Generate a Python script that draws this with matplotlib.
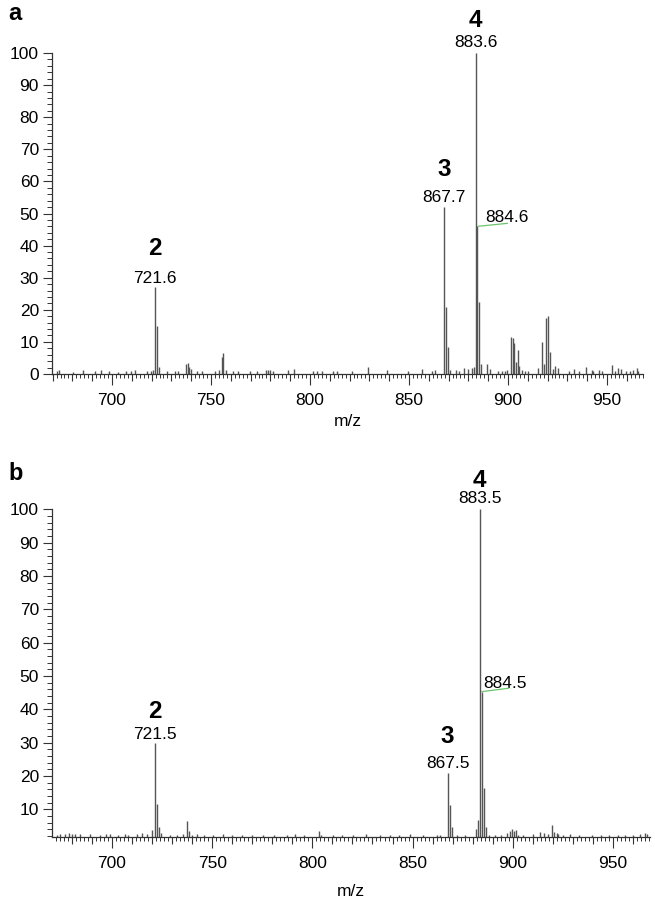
import matplotlib
matplotlib.use("Agg")
import matplotlib.pyplot as plt
from matplotlib.ticker import MultipleLocator, FuncFormatter

plt.rcParams['font.family'] = ['Liberation Sans', 'DejaVu Sans']

# ---------------- data: panel a ----------------
a_mz = [672.1, 673.4, 680.5, 685.2, 691.4, 694.4, 698.6, 703.2, 707.1, 709.4,
        711.6, 717.5, 719.5, 720.6, 721.6, 722.6, 723.6, 727.6, 731.8, 733.5,
        737.3, 738.2, 739.0, 740.0, 742.8, 745.3, 752.0, 754.2, 755.4, 756.3,
        757.4, 761.3, 763.6, 769.7, 773.1, 777.6, 778.8, 779.8, 781.3, 789.1,
        792.1, 801.5, 803.7, 805.9, 811.8, 813.5, 821.1, 829.1, 839.1, 849.6,
        856.4, 861.5, 863.1, 867.7, 868.7, 869.7, 870.7, 873.7, 875.4, 877.8,
        880.0, 881.6, 882.6, 883.6, 884.6, 885.6, 886.5, 889.5, 890.9, 895.0,
        897.2, 898.6, 899.6, 901.4, 902.3, 903.2, 904.1, 905.1, 905.8, 907.0,
        908.5, 910.0, 915.0, 917.2, 918.1, 919.2, 920.2, 921.1, 922.6, 923.7,
        925.4, 931.0, 933.3, 935.9, 939.2, 942.3, 943.0, 946.2, 947.3, 952.7,
        954.0, 955.7, 957.0, 959.4, 961.6, 963.0, 965.0, 965.8]
a_int = [0.8, 1.3, 0.6, 1.2, 0.8, 1.3, 1.0, 0.7, 1.0, 0.8,
         1.1, 0.8, 1.0, 1.2, 27.2, 14.8, 2.3, 0.8, 1.0, 1.0,
         3.0, 3.5, 2.2, 1.5, 1.0, 1.0, 0.8, 1.2, 5.2, 6.6,
         1.3, 1.0, 1.0, 0.8, 0.8, 1.3, 1.3, 1.4, 0.8, 1.3,
         1.6, 0.8, 0.8, 0.8, 1.0, 0.8, 0.8, 2.2, 1.2, 1.0,
         1.5, 1.0, 1.2, 52.0, 20.8, 8.4, 1.2, 1.3, 1.0, 1.8,
         1.5, 2.0, 2.2, 100.0, 46.0, 22.4, 3.0, 3.0, 1.5, 0.8,
         1.0, 1.0, 1.2, 11.4, 11.3, 9.8, 3.8, 7.6, 2.5, 1.2,
         1.0, 1.0, 1.8, 10.0, 3.0, 17.4, 18.0, 7.0, 1.5, 2.5,
         2.0, 1.0, 1.5, 1.0, 2.3, 1.2, 1.0, 1.2, 1.0, 2.8,
         1.0, 2.0, 1.5, 1.0, 1.0, 1.3, 1.8, 1.0]

a_lab_mz = [721.6, 867.7, 883.6]
a_lab_num = ['2', '3', '4']
a_side_mz, a_side_text = 884.6, '884.6'

# ---------------- data: panel b ----------------
b_mz = [672.4, 674.0, 676.5, 678.5, 679.9, 681.5, 684.0, 689.0, 694.0, 697.0,
        699.0, 703.0, 706.5, 708.1, 712.6, 714.8, 717.3, 719.8, 721.5, 722.5,
        723.5, 724.5, 729.0, 732.3, 735.3, 737.6, 738.6, 739.8, 742.3, 746.0,
        750.5, 755.5, 760.0, 765.0, 769.7, 775.5, 781.0, 787.2, 791.3, 796.0,
        803.4, 804.3, 810.4, 815.0, 820.4, 827.0, 833.7, 838.7, 843.0, 848.7,
        855.3, 862.0, 863.7, 867.5, 868.5, 869.5, 872.0, 876.0, 881.6, 882.5,
        883.5, 884.5, 885.6, 886.5, 888.0, 891.0, 894.0, 897.3, 898.6, 899.6,
        900.6, 901.6, 902.8, 905.0, 910.0, 913.6, 915.7, 917.7, 919.4, 920.5,
        921.9, 922.7, 925.0, 928.5, 933.0, 939.4, 944.0, 948.0, 952.6, 956.0,
        960.0, 963.4, 965.9, 967.0]
b_int = [2.3, 2.5, 2.5, 2.8, 2.6, 2.6, 2.5, 2.6, 2.4, 2.7,
         2.7, 2.3, 2.6, 2.3, 2.7, 2.8, 2.6, 3.8, 29.8, 11.6,
         4.8, 3.0, 2.4, 2.4, 2.6, 6.6, 3.5, 2.4, 2.6, 2.3,
         2.3, 2.6, 2.3, 2.3, 2.4, 2.3, 2.3, 2.3, 2.5, 2.3,
         3.4, 2.4, 2.3, 2.3, 2.3, 2.5, 2.4, 2.3, 2.3, 2.6,
         2.3, 2.4, 2.4, 20.8, 11.3, 4.8, 2.3, 2.3, 4.2, 6.8,
         100.0, 45.3, 16.3, 4.6, 2.3, 2.3, 2.3, 2.8, 3.5, 4.0,
         3.6, 3.7, 2.4, 2.2, 2.6, 3.2, 3.0, 2.5, 5.2, 3.2,
         3.0, 2.6, 2.3, 2.5, 2.3, 2.3, 2.3, 2.3, 2.3, 2.3,
         2.4, 2.6, 2.8, 2.6]

b_lab_mz = [721.5, 867.5, 883.5]
b_lab_num = ['2', '3', '4']
b_side_mz, b_side_text = 884.5, '884.5'

x_label = 'm/z'

# ---------------- figure ----------------
W, H = 655, 900
fig = plt.figure(figsize=(W / 100, H / 100), dpi=100)

PEAK = '#555555'
GREEN = '#6cc46c'
AX = '#333333'


def px_to_pt(p):
    return p * 72.0 / 100.0


def setup(ax, xlim, ylim, yticks, labelpad_px):
    ax.set_xlim(*xlim)
    ax.set_ylim(*ylim)
    for s in ['top', 'right']:
        ax.spines[s].set_visible(False)
    for s in ['left', 'bottom']:
        ax.spines[s].set_color(AX)
        ax.spines[s].set_linewidth(0.9)
    ax.xaxis.set_major_locator(MultipleLocator(10))
    ax.xaxis.set_minor_locator(MultipleLocator(2))
    ax.xaxis.set_major_formatter(FuncFormatter(
        lambda v, p: f'{int(round(v))}' if int(round(v)) % 50 == 0 else ''))
    ax.set_yticks(yticks)
    ax.yaxis.set_minor_locator(MultipleLocator(2))
    ax.tick_params(axis='x', which='major', length=px_to_pt(11), width=0.8,
                   color=AX, pad=px_to_pt(8), labelsize=12.5)
    ax.tick_params(axis='x', which='minor', length=px_to_pt(4), width=0.7, color=AX)
    ax.tick_params(axis='y', which='major', length=px_to_pt(9), width=0.8,
                   color=AX, pad=px_to_pt(4), labelsize=12.5)
    ax.tick_params(axis='y', which='minor', length=px_to_pt(5), width=0.7, color=AX)
    locs = ax.xaxis.get_majorticklocs()
    ticks = ax.xaxis.get_major_ticks(len(locs))
    for loc, t in zip(locs, ticks):
        if int(round(loc)) % 50 != 0:
            t.tick1line.set_markersize(px_to_pt(7))
    ax.set_xlabel(x_label, fontsize=12.5, labelpad=px_to_pt(labelpad_px))


def draw_panel(ax, mz, inten, lab_mz, lab_num, side_mz, side_text,
               num_off, bold_off, side_txt_off, side_line_end):
    ax.vlines(mz, 0, inten, colors=PEAK, linewidth=1.0)
    lookup = dict(zip(mz, inten))
    for m, n, no, bo in zip(lab_mz, lab_num, num_off, bold_off):
        h = lookup[m]
        ax.annotate(f'{m:.1f}', xy=(m, h), xytext=(0, px_to_pt(no)),
                    textcoords='offset points', ha='center', va='baseline',
                    fontsize=12.5, annotation_clip=False)
        ax.annotate(n, xy=(m, h), xytext=(0, px_to_pt(no + bo)),
                    textcoords='offset points', ha='center', va='baseline',
                    fontsize=17.5, fontweight='bold', annotation_clip=False)
    h = lookup[side_mz]
    ax.annotate(side_text, xy=(side_mz, h),
                xytext=(px_to_pt(side_txt_off[0]), px_to_pt(side_txt_off[1])),
                textcoords='offset points', ha='left', va='baseline',
                fontsize=12.5, annotation_clip=False)
    ax.annotate('', xy=(side_mz, h),
                xytext=(px_to_pt(side_line_end[0]), px_to_pt(side_line_end[1])),
                textcoords='offset points', annotation_clip=False,
                arrowprops=dict(arrowstyle='-', color=GREEN, lw=0.9,
                                shrinkA=0, shrinkB=0))


# panel a
ax1 = fig.add_axes([52 / W, 1 - 374 / H, 591 / W, 321 / H])
setup(ax1, (669.7, 968.2), (0, 100), list(range(0, 101, 10)), labelpad_px=6)
draw_panel(ax1, a_mz, a_int, a_lab_mz, a_lab_num, a_side_mz, a_side_text,
           num_off=[4, 5, 6], bold_off=[28, 26, 20],
           side_txt_off=(8, 4), side_line_end=(30, 3))

# panel b
ax2 = fig.add_axes([52 / W, 1 - 837.3 / H, 598 / W, 328 / H])
setup(ax2, (670.06, 968.5), (1.6, 100), list(range(10, 101, 10)), labelpad_px=13)
draw_panel(ax2, b_mz, b_int, b_lab_mz, b_lab_num, b_side_mz, b_side_text,
           num_off=[4, 5, 6], bold_off=[21, 25, 16],
           side_txt_off=(2, 3.5), side_line_end=(27, 3.4))

fig.text(8 / W, 1 - 20 / H, 'a', fontsize=17, fontweight='bold', va='baseline')
fig.text(8 / W, 1 - 480 / H, 'b', fontsize=17, fontweight='bold', va='baseline')

fig.savefig('out.png', dpi=100)
